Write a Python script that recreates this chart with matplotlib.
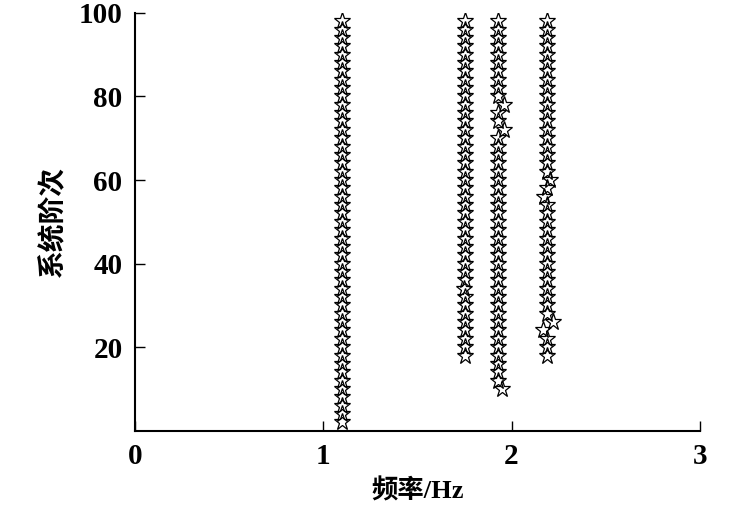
import numpy as np
import matplotlib.pyplot as plt

# stabilization diagram: four stable modes
mode_freqs = [1.10, 1.755, 1.93, 2.19]   # Hz
mode_start = [2, 18, 10, 18]            # lowest system order where the pole shows up
order_step = 2
order_max = 98

# poles that drift off the column: (mode index, order, frequency)
outliers = [
    (1, 34, 1.745),
    (2, 78, 1.958),
    (2, 72, 1.962),
    (2, 10, 1.950),
    (3, 60, 2.205),
    (3, 56, 2.175),
    (3, 26, 2.218),
    (3, 24, 2.165),
]

plt.rcParams['font.family'] = ['Liberation Serif', 'Noto Sans CJK SC']

fig = plt.figure(figsize=(7.46, 5.14), dpi=100)
ax = fig.add_axes([0.181, 0.162, 0.757, 0.813])

for i, f0 in enumerate(mode_freqs):
    orders = np.arange(mode_start[i], order_max + 1, order_step)
    freqs = np.full(len(orders), f0)
    for m, o, f in outliers:
        if m == i:
            freqs[orders == o] = f
    ax.plot(freqs, orders, linestyle='none', marker='*', markersize=12.5,
            markerfacecolor='none', markeredgecolor='black', markeredgewidth=0.9)

ax.set_xlim(0, 3)
ax.set_ylim(0, 100)
ax.set_xticks([0, 1, 2, 3])
ax.set_yticks([20, 40, 60, 80, 100])
ax.spines['top'].set_visible(False)
ax.spines['right'].set_visible(False)
for s in ['left', 'bottom']:
    ax.spines[s].set_linewidth(1.5)
ax.tick_params(direction='in', length=7, width=1.0, labelsize=21, pad=9)
for lbl in ax.get_xticklabels() + ax.get_yticklabels():
    lbl.set_fontweight('bold')

ax.set_xlabel('频率/Hz', fontsize=19, fontweight='bold',
              family=['Liberation Serif', 'Noto Sans CJK SC'], labelpad=6)
ax.set_ylabel('系统阶次', fontsize=20, fontweight='bold',
              family=['Noto Sans CJK SC'], labelpad=8)

fig.savefig('out.png', dpi=100)
